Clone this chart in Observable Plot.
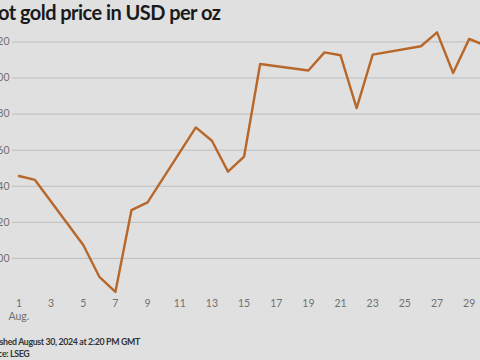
<!DOCTYPE html>
<html><head><meta charset="utf-8">
<script src="https://cdn.jsdelivr.net/npm/d3@7"></script>
<script src="https://cdn.jsdelivr.net/npm/@observablehq/plot@0.6"></script>
<style>
html,body{margin:0;padding:0;background:#e0e0e0;width:480px;height:360px;overflow:hidden;}
#wrap{position:relative;left:-22px;width:540px;height:360px;font-family:Lato,"Noto Sans",sans-serif;}
#title{position:absolute;left:-1px;top:0;font-weight:700;font-size:20px;line-height:24px;letter-spacing:-0.55px;color:#1a1a1a;white-space:nowrap;}
#chart{position:absolute;left:0;top:26px;}
#foot{position:absolute;left:3.5px;top:336px;font-size:8.8px;font-weight:700;line-height:12px;letter-spacing:-0.35px;color:#333;white-space:nowrap;}
</style></head>
<body><div id="wrap"><div id="title">Spot gold price in USD per oz</div><div id="chart"></div>
<div id="foot">Published August 30, 2024 at 2:20 PM GMT<br>Source: LSEG</div></div>
<script>
const days = [1,2,5,6,7,8,9,12,13,14,15,16,19,20,21,22,23,26,27,28,29,30];
const prices = [2445.7,2443.5,2407.4,2389.8,2381.4,2426.8,2431.1,2472.6,2465.2,2448.1,2456.4,2507.8,2504.2,2514.2,2512.6,2483.3,2513,2517.6,2525.3,2502.8,2521.7,2518];
const xTicks = [1,3,5,7,9,11,13,15,17,19,21,23,25,27,29];
const yTicks = [2400,2420,2440,2460,2480,2500,2520];
const data = days.map((d,i)=>({day:d, price:prices[i]}));
const chart = Plot.plot({
  width: 512, height: 298,
  marginLeft: 34, marginRight: 2, marginTop: 1, marginBottom: 30,
  style: {background: "transparent", fontFamily: "Lato, 'Noto Sans', sans-serif", fontSize: "10.5px", color: "#707070"},
  x: {domain: [0.6, 30.2]},
  y: {domain: [2380, 2528]},
  marks: [
    Plot.ruleY(yTicks, {stroke: "#bdbdbd", strokeWidth: 1}),
    Plot.axisY({ticks: yTicks, tickSize: 0, tickPadding: 3, label: null, tickFormat: d => String(d)}),
    Plot.axisX({ticks: xTicks, tickSize: 0, tickPadding: 3, label: null, lineHeight: 1.25, tickFormat: d => d === 1 ? "1\nAug." : String(d)}),
    Plot.line(data, {x: "day", y: "price", stroke: "#b8672a", strokeWidth: 2.4})
  ]
});
document.getElementById("chart").appendChild(chart);
</script></body></html>
